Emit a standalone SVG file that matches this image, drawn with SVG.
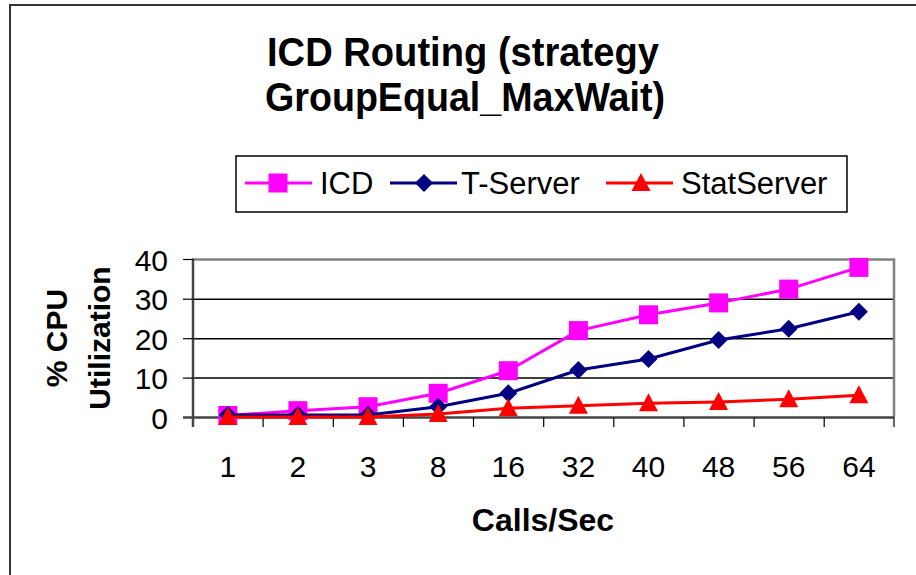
<svg xmlns="http://www.w3.org/2000/svg" width="916" height="575" viewBox="0 0 916 575">
<style>
text{font-family:"Liberation Sans",Arial,sans-serif;fill:#000}
.title{font-size:40px;font-weight:bold;text-anchor:middle}
.axt{font-size:30px;font-weight:bold;text-anchor:middle}
.tick{font-size:30px}
.xl{text-anchor:middle}
.yl{text-anchor:end}
.leg{font-size:31px}
.grid{stroke:#000;stroke-width:1.5}
.icd{fill:none;stroke:#FF00FF;stroke-width:3;stroke-linejoin:round}
.ts{fill:none;stroke:#000080;stroke-width:3;stroke-linejoin:round}
.ss{fill:none;stroke:#FF0000;stroke-width:3;stroke-linejoin:round}
</style>
<defs>
<rect id="sq" x="-9.5" y="-9.5" width="19" height="19" fill="#FF00FF"/>
<polygon id="dm" points="0,-9 9,0 0,9 -9,0" fill="#000080"/>
<polygon id="tr" points="0,-10 9.5,8 -9.5,8" fill="#FF0000"/>
</defs>
<rect x="0" y="0" width="916" height="575" fill="#fff"/>
<rect id="frame" x="10" y="5" width="920" height="590" fill="none" stroke="#333" stroke-width="2"/>
<g id="title">
<text class="title" x="463" y="66" textLength="392" lengthAdjust="spacingAndGlyphs">ICD Routing (strategy</text>
<text class="title" x="465" y="111" textLength="400" lengthAdjust="spacingAndGlyphs">GroupEqual_MaxWait)</text>
</g>
<g id="legend">
<rect x="236" y="156" width="611" height="56" fill="#fff" stroke="#000" stroke-width="1.5"/>
<line x1="245" y1="183" x2="312" y2="183" stroke="#FF00FF" stroke-width="3"/>
<use href="#sq" x="278" y="183"/>
<text class="leg" x="320" y="194">ICD</text>
<line x1="390" y1="183" x2="457" y2="183" stroke="#000080" stroke-width="3"/>
<use href="#dm" x="424" y="183"/>
<text class="leg" x="461" y="194">T-Server</text>
<line x1="606" y1="183" x2="673" y2="183" stroke="#FF0000" stroke-width="3"/>
<use href="#tr" x="641" y="183"/>
<text class="leg" x="681" y="194">StatServer</text>
</g>
<g id="plot">
<line class="grid" x1="193" y1="299.2" x2="894" y2="299.2"/>
<line class="grid" x1="193" y1="338.7" x2="894" y2="338.7"/>
<line class="grid" x1="193" y1="378.1" x2="894" y2="378.1"/>
<polyline points="193,259.5 894,259.5 894,417.5" fill="none" stroke="#808080" stroke-width="2.5"/>
<line x1="193" y1="258.5" x2="193" y2="427" stroke="#444" stroke-width="2.5"/>
<line x1="183" y1="417.5" x2="894" y2="417.5" stroke="#444" stroke-width="2.5"/>
<g stroke="#000" stroke-width="1.2">
<line x1="183" y1="259.5" x2="193" y2="259.5"/>
<line x1="183" y1="299.2" x2="193" y2="299.2"/>
<line x1="183" y1="338.7" x2="193" y2="338.7"/>
<line x1="183" y1="378.1" x2="193" y2="378.1"/>
<line x1="263.1" y1="417.5" x2="263.1" y2="427"/>
<line x1="333.3" y1="417.5" x2="333.3" y2="427"/>
<line x1="403.4" y1="417.5" x2="403.4" y2="427"/>
<line x1="473.5" y1="417.5" x2="473.5" y2="427"/>
<line x1="543.7" y1="417.5" x2="543.7" y2="427"/>
<line x1="613.8" y1="417.5" x2="613.8" y2="427"/>
<line x1="683.9" y1="417.5" x2="683.9" y2="427"/>
<line x1="754.1" y1="417.5" x2="754.1" y2="427"/>
<line x1="824.2" y1="417.5" x2="824.2" y2="427"/>
<line x1="894" y1="417.5" x2="894" y2="427"/>
</g>
</g>
<g id="y-labels">
<text class="tick yl" x="168" y="270.5">40</text>
<text class="tick yl" x="168" y="310">30</text>
<text class="tick yl" x="168" y="349.5">20</text>
<text class="tick yl" x="168" y="389">10</text>
<text class="tick yl" x="168" y="428.5">0</text>
</g>
<g id="x-labels">
<text class="tick xl" x="227.8" y="477">1</text>
<text class="tick xl" x="297.9" y="477">2</text>
<text class="tick xl" x="368" y="477">3</text>
<text class="tick xl" x="438.2" y="477">8</text>
<text class="tick xl" x="508.3" y="477">16</text>
<text class="tick xl" x="578.4" y="477">32</text>
<text class="tick xl" x="648.5" y="477">40</text>
<text class="tick xl" x="718.6" y="477">48</text>
<text class="tick xl" x="788.7" y="477">56</text>
<text class="tick xl" x="858.9" y="477">64</text>
</g>
<g id="axis-titles">
<text class="axt" x="543" y="531" style="font-size:32px">Calls/Sec</text>
<text class="axt" transform="translate(67,338) rotate(-90)">% CPU</text>
<text class="axt" transform="translate(110,338) rotate(-90)">Utilization</text>
</g>
<g id="series-icd">
<polyline class="icd" points="227.8,415.5 297.9,410.7 368,406.7 438.2,393.3 508.3,370.7 578.4,330.6 648.5,314.8 718.6,302.9 788.7,289.1 858.9,267.4"/>
<use href="#sq" x="227.8" y="415.5"/><use href="#sq" x="297.9" y="410.7"/><use href="#sq" x="368" y="406.7"/><use href="#sq" x="438.2" y="393.3"/><use href="#sq" x="508.3" y="370.7"/><use href="#sq" x="578.4" y="330.6"/><use href="#sq" x="648.5" y="314.8"/><use href="#sq" x="718.6" y="302.9"/><use href="#sq" x="788.7" y="289.1"/><use href="#sq" x="858.9" y="267.4"/>
</g>
<g id="series-tserver">
<polyline class="ts" points="227.8,415 297.9,415 368,415 438.2,406.7 508.3,393.3 578.4,370 648.5,359 718.6,340 788.7,328.7 858.9,311.7"/>
<use href="#dm" x="227.8" y="415"/><use href="#dm" x="297.9" y="415"/><use href="#dm" x="368" y="415"/><use href="#dm" x="438.2" y="406.7"/><use href="#dm" x="508.3" y="393.3"/><use href="#dm" x="578.4" y="370"/><use href="#dm" x="648.5" y="359"/><use href="#dm" x="718.6" y="340"/><use href="#dm" x="788.7" y="328.7"/><use href="#dm" x="858.9" y="311.7"/>
</g>
<g id="series-statserver">
<polyline class="ss" points="227.8,417 297.9,417 368,417 438.2,414 508.3,408.3 578.4,405.7 648.5,403.3 718.6,402 788.7,399.3 858.9,395.3"/>
<use href="#tr" x="227.8" y="417"/><use href="#tr" x="297.9" y="417"/><use href="#tr" x="368" y="417"/><use href="#tr" x="438.2" y="414"/><use href="#tr" x="508.3" y="408.3"/><use href="#tr" x="578.4" y="405.7"/><use href="#tr" x="648.5" y="403.3"/><use href="#tr" x="718.6" y="402"/><use href="#tr" x="788.7" y="399.3"/><use href="#tr" x="858.9" y="395.3"/>
</g>
</svg>
